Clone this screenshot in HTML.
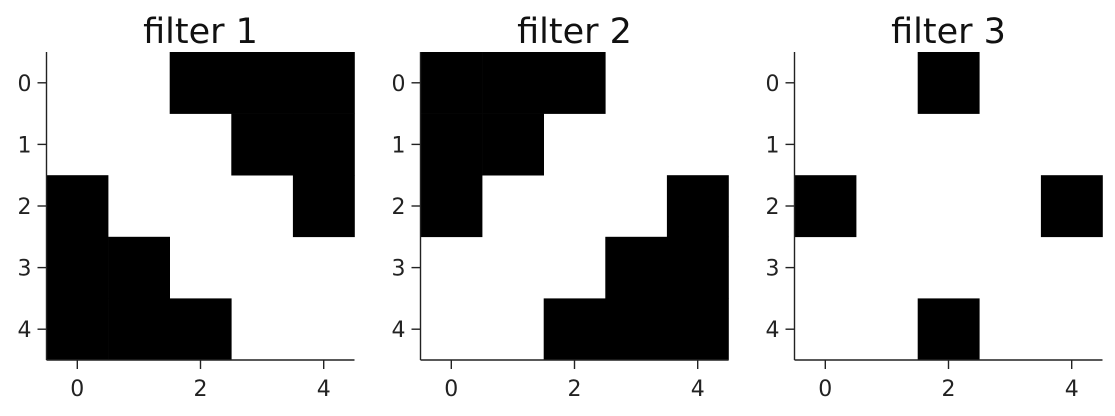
<!DOCTYPE html>
<html><head><meta charset="utf-8"><style>
html,body{margin:0;padding:0;background:#fff;}
svg{display:block;font-family:"DejaVu Sans","Liberation Sans",sans-serif;}
</style></head><body>
<svg id="chart" width="1115" height="416" viewBox="0 0 1115 416"></svg>
<script>
const titles = ["filter 1", "filter 2", "filter 3"];
const filter1 = [[0,0,1,1,1],[0,0,0,1,1],[1,0,0,0,1],[1,1,0,0,0],[1,1,1,0,0]];
const filter2 = [[1,1,1,0,0],[1,1,0,0,0],[1,0,0,0,1],[0,0,0,1,1],[0,0,1,1,1]];
const filter3 = [[0,0,1,0,0],[0,0,0,0,0],[1,0,0,0,1],[0,0,0,0,0],[0,0,1,0,0]];
const xTicks = [0, 2, 4];
const yTicks = [0, 1, 2, 3, 4];

const NS = "http://www.w3.org/2000/svg";
const svg = document.getElementById("chart");
const lefts = [46.5, 420.5, 794.5];
const top0 = 52, size = 308;
const mats = [filter1, filter2, filter3];
function mk(tag, attrs, parent){ const e=document.createElementNS(NS,tag); for(const k in attrs) e.setAttribute(k,attrs[k]); parent.appendChild(e); return e; }

mats.forEach((m, p) => {
  const L = lefts[p];
  const n = m.length, cell = size / n;
  const xs = v => L + (v + 0.5) * cell;
  const ys = v => top0 + (v + 0.5) * cell;
  const g = mk("g", {}, svg);
  
  
  m.forEach((row, r) => row.forEach((v, c) => {
    if (v) {
      const rc = mk("rect", {x: xs(c) - cell/2, y: ys(r) - cell/2, width: cell + 0.3, height: cell + 0.3, fill: "#000"}, g);
      
      
    }
  }));
  const sp1 = mk("line", {x1: L, y1: top0, x2: L, y2: top0 + size, stroke: "#222", "stroke-width": 1.4}, g);
  
  
  const sp2 = mk("line", {x1: L, y1: top0 + size, x2: L + size, y2: top0 + size, stroke: "#222", "stroke-width": 1.4}, g);
  
  
  yTicks.forEach(t => {
    mk("line", {x1: L - 9, y1: ys(t), x2: L, y2: ys(t), stroke: "#222", "stroke-width": 1.4}, g);
    const tx = mk("text", {x: L - 15, y: ys(t) + 8, "text-anchor": "end", "font-size": 22, fill: "#222"}, g);
    tx.textContent = t;
    
    
  });
  xTicks.forEach(t => {
    mk("line", {x1: xs(t), y1: top0 + size, x2: xs(t), y2: top0 + size + 9, stroke: "#222", "stroke-width": 1.4}, g);
    const tx = mk("text", {x: xs(t), y: top0 + size + 36, "text-anchor": "middle", "font-size": 22, fill: "#222"}, g);
    tx.textContent = t;
    
    
  });
  const ti = mk("text", {x: L + size/2, y: 43, "text-anchor": "middle", "font-size": 35, fill: "#111"}, g);
  ti.textContent = titles[p];
  
  
});
</script>
</body></html>
